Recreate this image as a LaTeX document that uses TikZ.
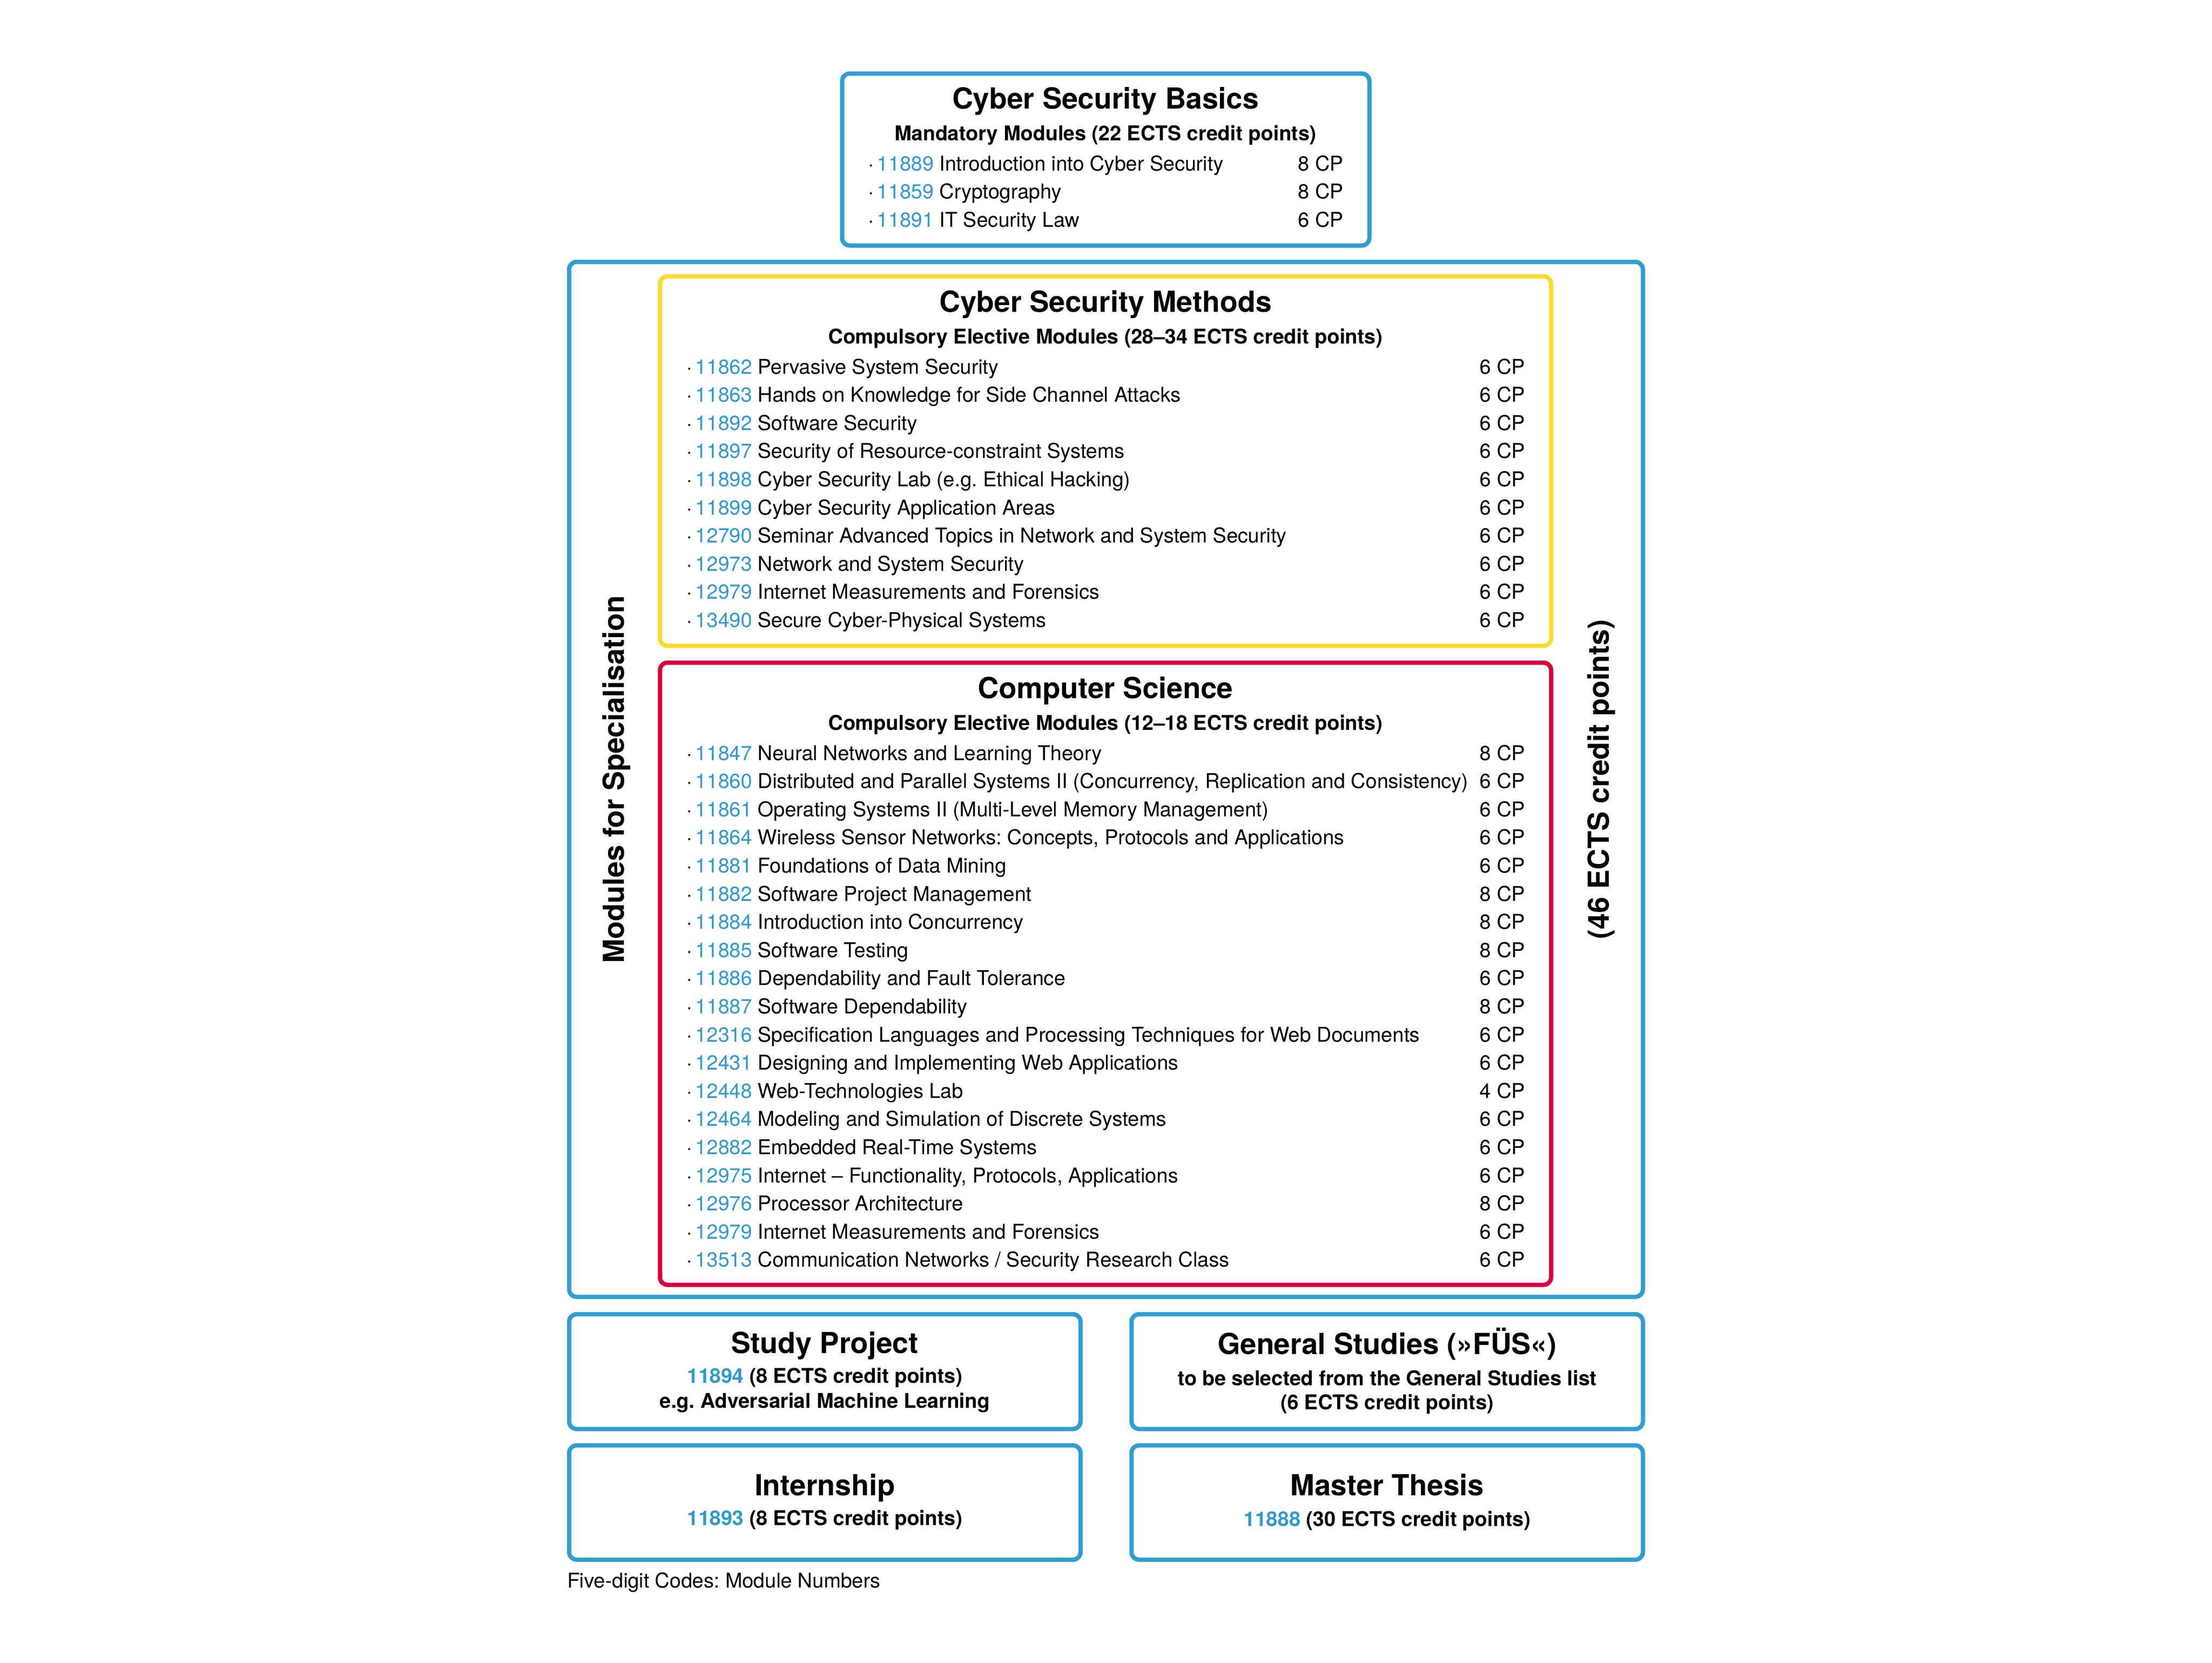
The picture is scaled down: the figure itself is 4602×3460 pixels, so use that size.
\documentclass[tikz,border=0pt]{standalone}
\usepackage{fontspec}
\setmainfont{TeX Gyre Heros}
\usepackage{tikz}
\definecolor{cyberblue}{HTML}{319DD0}
\definecolor{numblue}{HTML}{3399CC}
\definecolor{methyellow}{HTML}{FDDA2D}
\definecolor{csred}{HTML}{D9003A}
\newcommand{\modnum}[1]{\textcolor{numblue}{#1}}
\frenchspacing

\begin{document}
\begin{tikzpicture}[x=0.25pt, y=-0.25pt]
                    \tikzstyle{every node}=[inner sep=0pt, outer sep=0pt]
                    \tikzstyle{frame} = [line width=2.25pt, rounded corners=4pt]
                    \tikzstyle{title} = [anchor=base, font=\fontsize{15.1pt}{18pt}\selectfont\bfseries]
                    \tikzstyle{subtitle} = [anchor=base, font=\fontsize{10.6pt}{13pt}\selectfont\bfseries]
                    \tikzstyle{item} = [anchor=base west, font=\fontsize{10.6pt}{13pt}\selectfont]
                    \tikzstyle{cp} = [anchor=base east, font=\fontsize{10.6pt}{13pt}\selectfont]

                    \useasboundingbox (0,0) rectangle (4602,3460);

                    % frames
                    \draw[frame, cyberblue] (1752,153) rectangle (2849,511);
                    \draw[frame, cyberblue] (1184,545) rectangle (3418,2699);
                    \draw[frame, methyellow] (1373,575) rectangle (3227,1344);
                    \draw[frame, csred] (1373,1379) rectangle (3227,2674);
                    \draw[frame, cyberblue] (1184,2735) rectangle (2248,2974);
                    \draw[frame, cyberblue] (2354,2735) rectangle (3418,2974);
                    \draw[frame, cyberblue] (1184,3008) rectangle (2248,3246);
                    \draw[frame, cyberblue] (2354,3008) rectangle (3418,3246);

                    % basics
                    \node[title](basics) at (2300,226) {Cyber Security Basics};
                    \node[subtitle](basicssub) at (2300,292) {Mandatory Modules (22 ECTS credit points)};
                    \foreach \num/\name/\pts [count=\i from 0] in {11889/Introduction into Cyber Security/8, 11859/Cryptography/8, 11891/IT Security Law/6} {
                        \node[item](basics\num) at (1806,355+58.5*\i) {·\,\modnum{\num} \name};
                        \node[cp](basicscp\num) at (2795,355+58.5*\i) {\pts~CP};
                    }

                    % methods
                    \node[title](methods) at (2300,649) {Cyber Security Methods};
                    \node[subtitle](methodssub) at (2300,715) {Compulsory Elective Modules (28–34 ECTS credit points)};
                    \foreach \num/\name/\pts [count=\i from 0] in {
                        11862/Pervasive System Security/6,
                        11863/Hands on Knowledge for Side Channel Attacks/6,
                        11892/Software Security/6,
                        11897/Security of Resource-constraint Systems/6,
                        11898/Cyber Security Lab (e.g. Ethical Hacking)/6,
                        11899/Cyber Security Application Areas/6,
                        12790/Seminar Advanced Topics in Network and System Security/6,
                        12973/Network and System Security/6,
                        12979/Internet Measurements and Forensics/6,
                        13490/Secure Cyber-Physical Systems/6} {
                        \node[item](meth\num) at (1428,778+58.6*\i) {·\,\modnum{\num} \name};
                        \node[cp](methcp\num) at (3173,778+58.6*\i) {\pts~CP};
                    }

                    % computer science
                    \node[title](compsci) at (2300,1453) {Computer Science};
                    \node[subtitle](compscisub) at (2300,1519) {Compulsory Elective Modules (12–18 ECTS credit points)};
                    \foreach \num/\name/\pts [count=\i from 0] in {
                        11847/Neural Networks and Learning Theory/8,
                        11860/{Distributed and Parallel Systems II (Concurrency, Replication and Consistency)}/6,
                        11861/Operating Systems II (Multi-Level Memory Management)/6,
                        11864/{Wireless Sensor Networks: Concepts, Protocols and Applications}/6,
                        11881/Foundations of Data Mining/6,
                        11882/Software Project Management/8,
                        11884/Introduction into Concurrency/8,
                        11885/Software Testing/8,
                        11886/Dependability and Fault Tolerance/6,
                        11887/Software Dependability/8,
                        12316/Specification Languages and Processing Techniques for Web Documents/6,
                        12431/Designing and Implementing Web Applications/6,
                        12448/Web-Technologies Lab/4,
                        12464/Modeling and Simulation of Discrete Systems/6,
                        12882/Embedded Real-Time Systems/6,
                        12975/{Internet – Functionality, Protocols, Applications}/6,
                        12976/Processor Architecture/8,
                        12979/Internet Measurements and Forensics/6,
                        13513/{Communication Networks / Security Research Class}/6} {
                        \node[item](comp\num) at (1428,1582+58.6*\i) {·\,\modnum{\num} \name};
                        \node[cp](compcp\num) at (3173,1582+58.6*\i) {\pts~CP};
                    }

                    % side labels
                    \node[title, rotate=90](spec) at (1298,1622) {Modules for Specialisation};
                    \node[title, rotate=90](speccp) at (3347,1622) {(46 ECTS credit points)};

                    % bottom boxes
                    \node[title](project) at (1716,2816) {Study Project};
                    \node[subtitle](projectcp) at (1716,2878) {\modnum{11894} (8 ECTS credit points)};
                    \node[subtitle](projectex) at (1716,2930) {e.g. Adversarial Machine Learning};
                    \node[title](general) at (2886,2818) {General Studies (»FÜS«)};
                    \node[subtitle](generalsel) at (2886,2883) {to be selected from the General Studies list};
                    \node[subtitle](generalcp) at (2886,2933) {(6 ECTS credit points)};
                    \node[title](intern) at (1716,3112) {Internship};
                    \node[subtitle](interncp) at (1716,3174) {\modnum{11893} (8 ECTS credit points)};
                    \node[title](thesis) at (2886,3112) {Master Thesis};
                    \node[subtitle](thesiscp) at (2886,3176) {\modnum{11888} (30 ECTS credit points)};

                    \node[item](legend) at (1180,3304) {Five-digit Codes: Module Numbers};
            \end{tikzpicture}
\end{document}
